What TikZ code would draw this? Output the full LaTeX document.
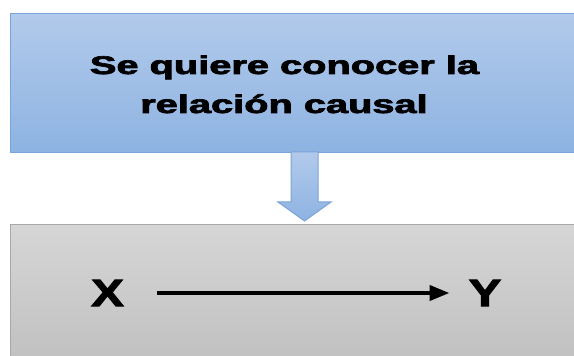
\documentclass[tikz,border=0pt]{standalone}
\usepackage{fontspec}
\setmainfont{Liberation Sans}
\newfontfamily\heavyfont[FakeBold=2.5]{Liberation Sans Bold}
\usetikzlibrary{arrows.meta}

\definecolor{bluetop}{RGB}{178,202,235}
\definecolor{bluebot}{RGB}{141,179,226}
\definecolor{blueline}{RGB}{122,164,216}
\definecolor{graytop}{RGB}{214,214,214}
\definecolor{graybot}{RGB}{192,192,192}
\definecolor{grayline}{RGB}{168,168,168}

\begin{document}
\begin{tikzpicture}[x=1pt,y=1pt,
  bluebox/.style={draw=blueline,line width=1pt,top color=bluetop,bottom color=bluebot,inner sep=0pt,anchor=north west},
  graybox/.style={draw=grayline,line width=1pt,top color=graytop,bottom color=graybot,inner sep=0pt,anchor=north west},
  title/.style={font=\heavyfont\fontsize{25.5}{30}\selectfont,anchor=base,xscale=1.56,transform shape,inner sep=0pt},
  var/.style={font=\heavyfont\fontsize{38}{40}\selectfont,xscale=1.28,transform shape,inner sep=0pt}]
\useasboundingbox (0,0) rectangle (574,356);

\node (top) [bluebox,minimum width=570pt,minimum height=139pt] at (10,343) {};
\node (bot) [graybox,minimum width=570pt,minimum height=140pt] at (10,132) {};

\node (qa) [title] at (284.5,282) {Se quiere conocer la};
\node (qb) [title] at (284,243) {relación causal};

% block arrow between the boxes
\coordinate (tip) at (304.5,135);
\draw[blueline,line width=1pt,top color=bluetop,bottom color=bluebot]
  (291,204) -- (318,204) -- (318,154) -- (331,154) -- (tip)
  -- (278,154) -- (291,154) -- cycle;

\node (x) [var] at (107.5,63) {X};
\node (y) [var] at (485,63) {Y};
\draw[line width=4pt,-{Triangle[length=20pt,width=15pt]},shorten <=33pt,shorten >=19pt] (x) -- (y);

\end{tikzpicture}
\end{document}
